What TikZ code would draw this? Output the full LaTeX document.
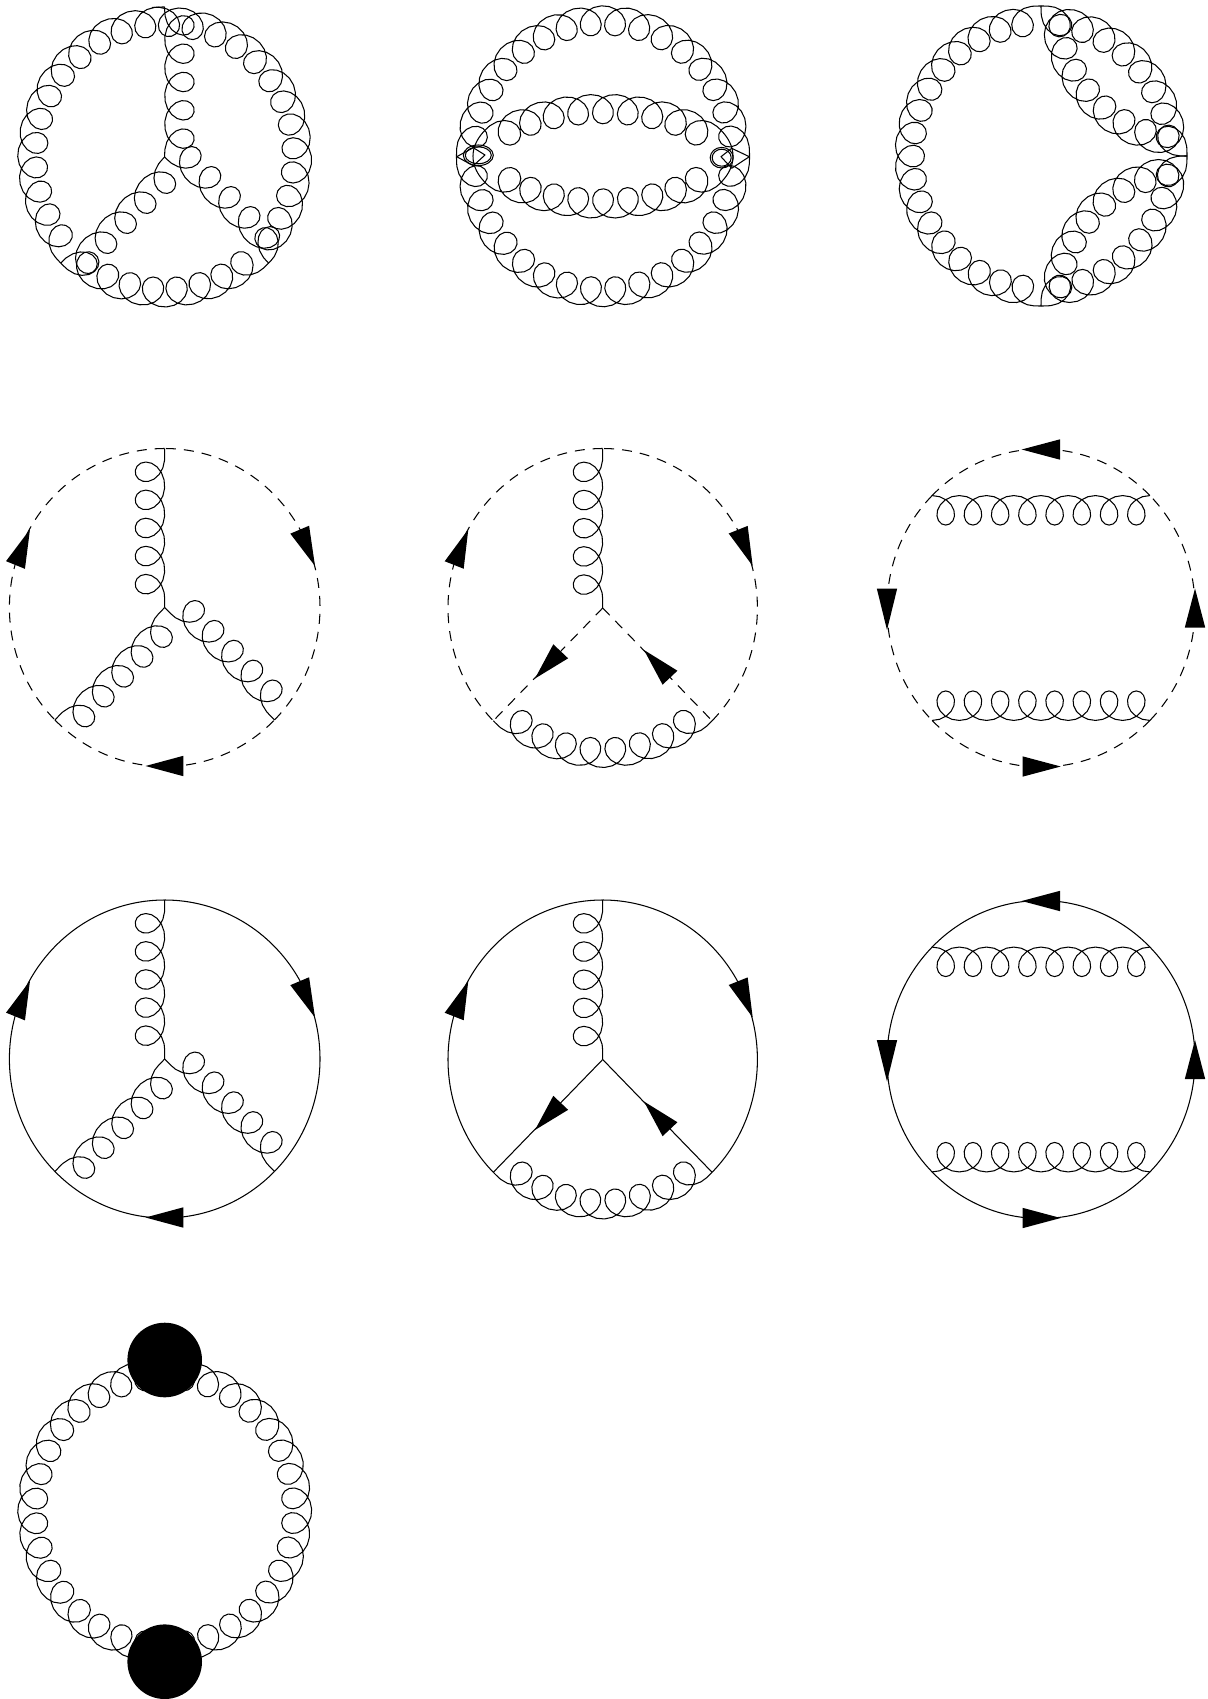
\documentclass[tikz,border=0pt]{standalone}
\usetikzlibrary{decorations,calc}
\def\gluonN{5}\def\gluonE{0.3}
\def\gluonS{16}
\def\gluonR{16.2}\def\gluonH{29.5}
\pgfdeclaredecoration{gluondec}{run}{
  \state{run}[width={\pgfdecoratedpathlength/((\gluonN+2*\gluonE)*\gluonS)},
              switch if less than={0.2pt to final}]{
    \pgfmathsetmacro\gT{min(max(\pgfdecoratedcompleteddistance/\pgfdecoratedpathlength*(\gluonN+2*\gluonE)-\gluonE,0),\gluonN)}
    \pgfpathlineto{\pgfpoint{\gluonR*sin(360*\gT)}{0.5*\gluonH*(1-cos(360*\gT))}}
  }
  \state{final}{\pgfpathlineto{\pgfpointdecoratedpathlast}}
}
\tikzset{
  gl/.style n args={2}{draw,line join=round,decorate,decoration={gluondec},
     /utils/exec={\def\gluonN{#1}\def\gluonE{#2}}},
  solidline/.style={draw},
  dashline/.style={draw,dash pattern=on 10pt off 8pt},
  disc/.style={circle,fill=black,draw=none,minimum size=74.6pt,inner sep=0pt},
}
% gluon along an elliptical arc: centre, start, end, rx, ry, loops, lead
\newcommand\gluonarc[7]{\draw[gl={#6}{#7}] ([shift={(#2:#4pt and #5pt)}]#1) arc[start angle=#2,end angle=#3,x radius=#4pt,y radius=#5pt];}
% plain arc: style, centre, start, end, rx, ry
\newcommand\linearc[6]{\draw[#1] ([shift={(#3:#5pt and #6pt)}]#2) arc[start angle=#3,end angle=#4,x radius=#5pt,y radius=#6pt];}
% arrow head: name, tip, base centre
\newcommand\farrow[3]{\coordinate (#1t) at (#2);\coordinate (#1b) at (#3);
  \fill (#1t) -- ($(#1b)!10.2pt!90:(#1t)$) -- ($(#1b)!10.2pt!-90:(#1t)$) -- cycle;}
\newcommand\ptat[5]{\coordinate (#1) at ([shift={(#3:#4pt and #5pt)}]#2);}
% three-gluon vertex in a matter loop
\newcommand\diagA[2]{%
  \coordinate (#1c) at (164.7,607.5);
  \ptat{#1t}{#1c}{90}{155.3}{159}\ptat{#1l}{#1c}{225}{155.3}{159}\ptat{#1r}{#1c}{315}{155.3}{159}
  \linearc{#2}{#1c}{90}{225}{155.3}{159}
  \linearc{#2}{#1c}{225}{315}{155.3}{159}
  \linearc{#2}{#1c}{315}{450}{155.3}{159}
  \draw[gl={5}{0.33}] (#1c) -- (#1t);
  \draw[gl={5}{0.33}] (#1c) -- (#1l);
  \draw[gl={5}{0.33}] (#1c) -- (#1r);
  \farrow{#1A}{30,529.3}{15.5,565}
  \farrow{#1B}{315,566}{299.7,529.7}
  \farrow{#1C}{145.5,766}{183.3,766}
}
\newcommand\diagB[2]{%
  \coordinate (#1c) at (602.7,608);
  \ptat{#1t}{#1c}{90}{154.7}{159.5}\ptat{#1l}{#1c}{225}{154.7}{159.5}\ptat{#1r}{#1c}{315}{154.7}{159.5}
  \linearc{#2}{#1c}{90}{225}{154.7}{159.5}
  \linearc{#2}{#1c}{315}{450}{154.7}{159.5}
  \draw[#2] (#1c) -- (#1l);
  \draw[#2] (#1c) -- (#1r);
  \draw[gl={5}{0.33}] (#1c) -- (#1t);
  \gluonarc{#1c}{225}{315}{154.7}{159.5}{8}{0.3}
  \farrow{#1A}{468.3,529.3}{454.2,565}
  \farrow{#1B}{752.7,566}{738.2,529.7}
  \farrow{#1C}{535,678.5}{560.7,651.3}
  \farrow{#1D}{644,650}{670,677.7}
}
\newcommand\diagC[2]{%
  \begin{scope}
  \def\gluonR{15}
  \coordinate (#1c) at (1041,608);
  \ptat{#1p}{#1c}{45}{154}{159}\ptat{#1q}{#1c}{135}{154}{159}\ptat{#1u}{#1c}{225}{154}{159}\ptat{#1v}{#1c}{315}{154}{159}
  \linearc{#2}{#1c}{45}{135}{154}{159}
  \linearc{#2}{#1c}{135}{225}{154}{159}
  \linearc{#2}{#1c}{225}{315}{154}{159}
  \linearc{#2}{#1c}{315}{405}{154}{159}
  \draw[gl={8}{0}] (#1p) -- (#1q);
  \draw[gl={8}{0}] (#1u) -- (#1v);
  \farrow{#1A}{1021.7,449.5}{1060,449.5}
  \farrow{#1B}{887,630}{887,588.5}
  \farrow{#1C}{1195,588.5}{1195,627.5}
  \farrow{#1D}{1060.7,766.5}{1022.5,766.5}
  \end{scope}
}
\begin{document}
\begin{tikzpicture}[x=1pt,y=-1pt,line width=1.05pt]
\useasboundingbox (0,0) rectangle (1207,1699);
% top row, first diagram
\coordinate (a) at (164.7,157);
\ptat{at}{a}{90}{147}{150}\ptat{al}{a}{225}{147}{150}\ptat{ar}{a}{315}{147}{150}
\gluonarc{a}{90}{225}{147}{150}{12}{0.3}
\gluonarc{a}{225}{315}{147}{150}{8}{0.3}
\gluonarc{a}{-45}{95}{147}{150}{13}{0.15}
\draw[gl={5}{0.15}] (at) -- (a);
\draw[gl={5}{0.15}] (a) -- (al);
\draw[gl={5}{0.15}] (a) -- (ar);
% top row, second diagram
\coordinate (b) at (603,156.3);
\gluonarc{b}{0}{180}{146.5}{150.5}{16}{0.3}
\gluonarc{b}{180}{360}{146.5}{150.5}{16}{0.3}
\gluonarc{b}{0}{180}{130}{62}{9}{1.32}
\gluonarc{b}{180}{360}{130}{62}{9}{1.32}
% end rings and tails of the inner gluons
\draw (478.3,155.3) ellipse[x radius=15pt,y radius=10.3pt];
\draw (478.3,155.3) ellipse[x radius=13pt,y radius=8.5pt];
\coordinate (bL1) at (456.7,156.7);\coordinate (bL2) at (473.3,147.7);\coordinate (bL3) at (485,155);\coordinate (bL4) at (473.3,165.7);
\draw[line join=round] (bL1) -- (bL2) -- (bL3) -- (bL4) -- cycle;
\draw (721.7,157.7) ellipse[x radius=11.5pt,y radius=10.3pt];
\draw (721.7,157.7) ellipse[x radius=9.5pt,y radius=8.5pt];
\coordinate (bR1) at (749.3,156.7);\coordinate (bR2) at (731.7,148.3);\coordinate (bR3) at (721,156.7);\coordinate (bR4) at (731.7,168.3);
\draw[line join=round] (bR1) -- (bR2) -- (bR3) -- (bR4) -- cycle;
% top row, third diagram
\coordinate (d) at (1041,156);
\coordinate (dU) at (1187,6);
\coordinate (dL) at (1187,306);
\gluonarc{d}{90}{270}{146}{150}{17}{0.3}
\gluonarc{d}{0}{90}{146}{150}{8}{0.3}
\gluonarc{d}{270}{360}{146}{150}{8}{0.3}
\gluonarc{dU}{180}{270}{146}{150}{8}{0.3}
\gluonarc{dL}{90}{180}{146}{150}{8}{0.3}
% second row
\diagA{e}{dashline}
\diagB{f}{dashline}
\diagC{g}{dashline}
% third row
\begin{scope}[shift={(0,451.5)}]
\diagA{h}{solidline}
\diagB{i}{solidline}
\diagC{j}{solidline}
\end{scope}
% bottom diagram
\coordinate (k) at (164.7,1510.8);
\gluonarc{k}{90}{270}{147}{151}{16}{0.3}
\gluonarc{k}{270}{450}{147}{151}{16}{0.3}
\node[disc] (kt) at (164.7,1360) {};
\node[disc] (kb) at (164.7,1661.7) {};
\end{tikzpicture}
\end{document}
